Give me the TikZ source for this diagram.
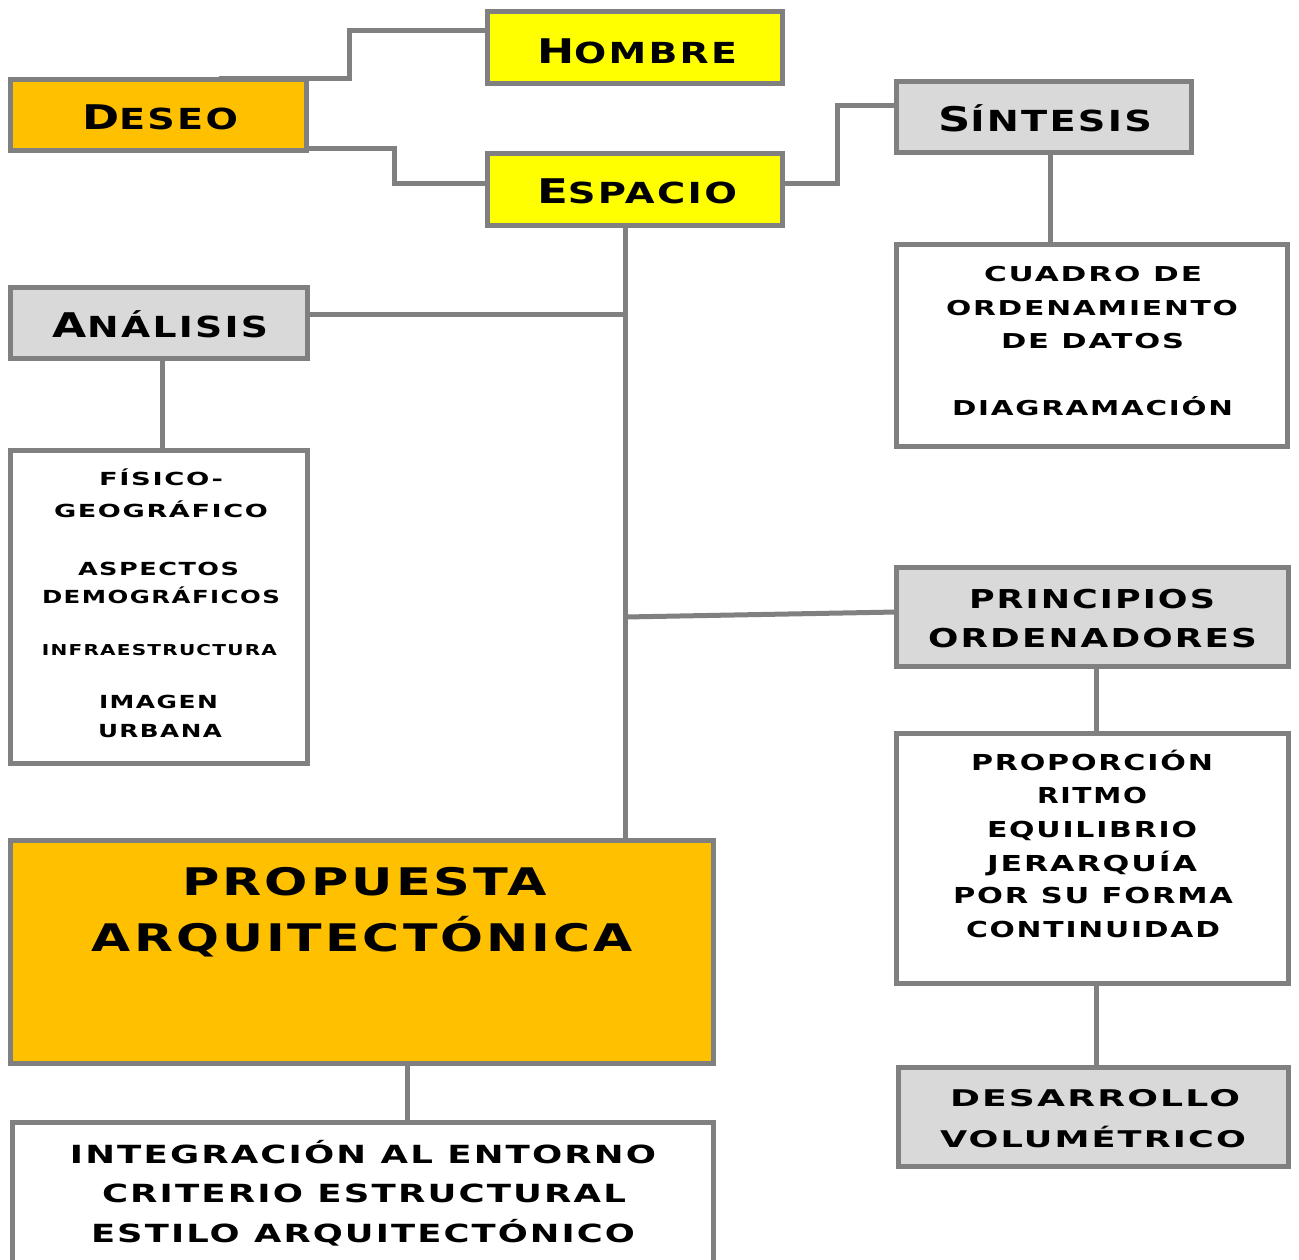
\documentclass[tikz,border=0pt]{standalone}
\usepackage{fontspec}
\usepackage{graphicx}
\usetikzlibrary{calc}
\setmainfont{DejaVu Sans}[LetterSpace=6]
\definecolor{bordergray}{HTML}{808080}
\definecolor{boxyellow}{HTML}{FFFF00}
\definecolor{boxorange}{HTML}{FFC000}
\definecolor{boxgray}{HTML}{D9D9D9}
\newsavebox\fitbox
\newlength\fitlen
\newcommand\fitto[2]{\sbox\fitbox{#2}\setlength\fitlen{\wd\fitbox}\pgfmathsetmacro\fitfac{#1/\fitlen}\scalebox{\fitfac}[1]{\usebox\fitbox}}
\newcommand\scap[2]{{\fontsize{34}{34}\selectfont #1}{\fontsize{29}{29}\selectfont #2}}
\newcommand\tl[6]{\node[txt] (#1) at (#2,#3) {\fontsize{#5}{#5}\selectfont\fitto{#4}{#6}};}
\begin{document}
\begin{tikzpicture}[x=1pt,y=-1pt,
  box/.style={draw=bordergray,line width=5.5pt,rectangle,inner sep=0pt,outer sep=0pt},
  yel/.style={box,fill=boxyellow},
  ora/.style={box,fill=boxorange},
  gry/.style={box,fill=boxgray},
  wht/.style={box,fill=white},
  txt/.style={anchor=base,inner sep=0pt,font=\bfseries},
  conn/.style={draw=bordergray,line width=5pt}]
\useasboundingbox (0,0) rectangle (1299,1259);
\clip (0,0) rectangle (1299,1259);
\fill[white] (0,0) rectangle (1299,1259);
% boxes
\node[yel,minimum width=295pt,minimum height=72pt] (Hombre) at (635,47.5) {};
\node[ora,minimum width=296pt,minimum height=71pt] (Deseo) at (158.5,115) {};
\node[yel,minimum width=295pt,minimum height=72pt] (Espacio) at (635,189.5) {};
\node[gry,minimum width=295pt,minimum height=71pt] (Sintesis) at (1044,117) {};
\node[wht,minimum width=391pt,minimum height=202pt] (Cuadro) at (1092,345.5) {};
\node[gry,minimum width=297pt,minimum height=71pt] (Analisis) at (159,323) {};
\node[wht,minimum width=297pt,minimum height=313pt] (Fisico) at (159,607) {};
\node[gry,minimum width=392pt,minimum height=99pt] (Principios) at (1092.5,617) {};
\node[wht,minimum width=392pt,minimum height=250pt] (Proporcion) at (1092.5,858.5) {};
\node[gry,minimum width=390pt,minimum height=99pt] (Desarrollo) at (1093.5,1117) {};
\node[ora,minimum width=703pt,minimum height=223pt] (Propuesta) at (362,952) {};
\node[wht,minimum width=701pt,minimum height=180pt] (Integracion) at (363,1212.5) {};
% connectors
\begin{scope}[on background layer/.try]
\end{scope}
\coordinate (d1) at ($(Deseo.north)+(60,-1)$);
\draw[conn] (d1) -- ($(Deseo.north east)+(43,-1)$) |- ($(Hombre.north west)+(0,19)$);
\draw[conn] ($(Deseo.south east)+(0,-2.5)$) -- ++(88,0) |- ($(Espacio.west)+(0,-6.5)$);
\draw[conn] ($(Espacio.east)+(0,-6.5)$) -- ++(55,0) |- ($(Sintesis.west)+(0,-12)$);
\coordinate (s1) at ($(Sintesis.south)+(6,0)$);
\draw[conn] (s1) -- (s1 |- Cuadro.north);
\coordinate (e1) at ($(Espacio.south)+(-10,0)$);
\draw[conn] (e1) -- (e1 |- Propuesta.north);
\coordinate (a1) at ($(Analisis.east)+(0,-9)$);
\draw[conn] (a1) -- (a1 -| e1);
\coordinate (a2) at ($(Analisis.south)+(3,0)$);
\draw[conn] (a2) -- (a2 |- Fisico.north);
\draw[conn] ($(Principios.west)+(0,-5)$) -- (e1 |- Principios.west);
\coordinate (p1) at ($(Principios.south)+(3.5,0)$);
\draw[conn] (p1) -- (p1 |- Proporcion.north);
\coordinate (p2) at ($(Proporcion.south)+(3.5,0)$);
\draw[conn] (p2) -- (p2 |- Desarrollo.north);
\coordinate (q1) at ($(Propuesta.south)+(45,0)$);
\draw[conn] (q1) -- (q1 |- Integracion.north);
% texts
\tl{tH}{637}{63}{200}{34}{\scap{H}{OMBRE}}
\tl{tD}{160}{129}{156}{34}{\scap{D}{ESEO}}
\tl{tE}{637}{203}{200}{34}{\scap{E}{SPACIO}}
\tl{tS}{1045}{131}{214}{34}{\scap{S}{ÍNTESIS}}
\tl{tA}{160.5}{337}{215}{34}{\scap{A}{NÁLISIS}}
\tl{c1}{1093}{281}{218}{20.5}{CUADRO DE}
\tl{c2}{1092}{315}{292}{20.5}{ORDENAMIENTO}
\tl{c3}{1092.5}{348}{183}{20.5}{DE DATOS}
\tl{c4}{1092.5}{415}{281}{20.5}{DIAGRAMACIÓN}
\tl{f1}{161}{485}{124}{18}{FÍSICO-}
\tl{f2}{161}{517}{214}{18}{GEOGRÁFICO}
\tl{f3}{158.5}{575}{161}{18}{ASPECTOS}
\tl{f4}{161}{603}{238}{18}{DEMOGRÁFICOS}
\tl{f5}{159.5}{655}{235}{15}{INFRAESTRUCTURA}
\tl{f6}{158.5}{708}{119}{18}{IMAGEN}
\tl{f7}{160}{737}{124}{18}{URBANA}
\tl{pr1}{1092}{608}{246}{26}{PRINCIPIOS}
\tl{pr2}{1092.5}{647}{329}{26}{ORDENADORES}
\tl{o1}{1092}{770}{242}{22}{PROPORCIÓN}
\tl{o2}{1092}{803}{110}{22}{RITMO}
\tl{o3}{1092}{837}{210}{22}{EQUILIBRIO}
\tl{o4}{1092}{871}{210}{22}{JERARQUÍA}
\tl{o5}{1093}{903}{280}{22}{POR SU FORMA}
\tl{o6}{1093}{937}{254}{22}{CONTINUIDAD}
\tl{v1}{1095}{1106}{290}{23}{DESARROLLO}
\tl{v2}{1093}{1147}{306}{23}{VOLUMÉTRICO}
\tl{u1}{364.5}{895}{365}{38}{PROPUESTA}
\tl{u2}{362.5}{951}{541}{38}{ARQUITECTÓNICA}
\tl{i1}{363}{1163}{586}{25}{INTEGRACIÓN AL ENTORNO}
\tl{i2}{364}{1202}{524}{25}{CRITERIO ESTRUCTURAL}
\tl{i3}{363}{1242}{544}{25}{ESTILO ARQUITECTÓNICO}
\end{tikzpicture}
\end{document}
